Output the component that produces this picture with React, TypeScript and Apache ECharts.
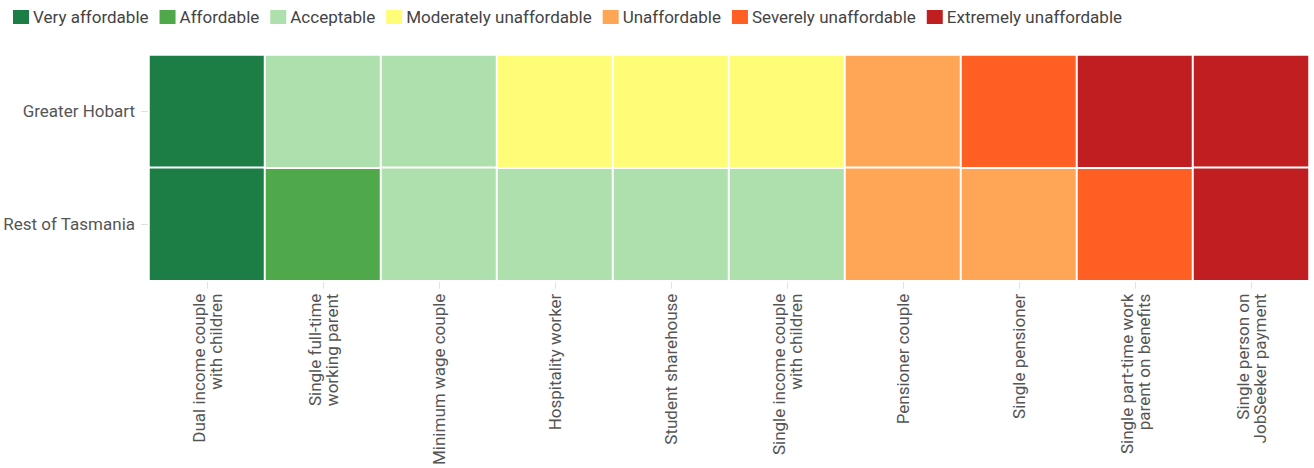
import React, { useEffect, useRef } from "react";
import * as echarts from "echarts";

const regions = ["Greater Hobart", "Rest of Tasmania"];
const households = [
  "Dual income couple\nwith children",
  "Single full-time\nworking parent",
  "Minimum wage couple",
  "Hospitality worker",
  "Student sharehouse",
  "Single income couple\nwith children",
  "Pensioner couple",
  "Single pensioner",
  "Single part-time work\nparent on benefits",
  "Single person on\nJobSeeker payment",
];
const levels = [
  "Very affordable",
  "Affordable",
  "Acceptable",
  "Moderately unaffordable",
  "Unaffordable",
  "Severely unaffordable",
  "Extremely unaffordable",
];
const levelColors = ["#1c7e44", "#4fa84a", "#aee0ae", "#fffc78", "#ffa556", "#ff5f22", "#c11e21"];
// level index per household, per region
const hobartLevels = [0, 2, 2, 3, 3, 3, 4, 5, 6, 6];
const restLevels = [0, 1, 2, 2, 2, 2, 4, 4, 5, 6];

const FONT = "Roboto, 'Noto Sans', sans-serif";

export default function App() {
  const ref = useRef<HTMLDivElement>(null);
  useEffect(() => {
    if (!ref.current) return;
    const chart = echarts.init(ref.current, undefined, { renderer: "svg" });
    const rows = [hobartLevels, restLevels];
    const series = levels.map((name, k) => {
      const data: number[][] = [];
      rows.forEach((row, yi) => {
        row.forEach((lv, xi) => {
          if (lv === k) data.push([xi, yi, k]);
        });
      });
      return {
        name,
        type: "heatmap",
        data,
        itemStyle: { color: levelColors[k], borderColor: "#ffffff", borderWidth: 2 },
        emphasis: { disabled: true },
      };
    });
    chart.setOption({
      animation: false,
      textStyle: { fontFamily: FONT },
      visualMap: {
        show: false,
        type: "piecewise",
        dimension: 2,
        pieces: levelColors.map((c, k) => ({ value: k, color: c })),
      },
      legend: {
        left: 6,
        top: 3,
        icon: "rect",
        itemWidth: 18,
        itemHeight: 16,
        itemGap: 9,
        textStyle: { fontSize: 17, color: "#444", fontFamily: FONT, padding: [0, 0, 0, -2] },
        data: levels.map((n, k) => ({ name: n, itemStyle: { color: levelColors[k] } })),
      },
      grid: {
        left: 147,
        right: 5,
        top: 55,
        bottom: 186,
        show: true,
        borderColor: "#e0e0e0",
        borderWidth: 1,
      },
      xAxis: {
        type: "category",
        data: households,
        axisLine: { show: true, lineStyle: { color: "#e0e0e0" } },
        axisTick: { show: true, alignWithLabel: true, length: 8, lineStyle: { color: "#e0e0e0" } },
        axisLabel: {
          rotate: 90,
          interval: 0,
          fontSize: 17,
          color: "#555",
          fontFamily: FONT,
          margin: 13,
          lineHeight: 17,
        },
        splitLine: { show: false },
      },
      yAxis: {
        type: "category",
        data: regions,
        inverse: true,
        axisLine: { show: true, lineStyle: { color: "#e0e0e0" } },
        axisTick: { show: true, alignWithLabel: true, length: 8, lineStyle: { color: "#e0e0e0" } },
        axisLabel: { fontSize: 17, color: "#555", fontFamily: FONT, margin: 14 },
        splitLine: { show: false },
      },
      series,
    });
    return () => chart.dispose();
  }, []);
  return (
    <div
      ref={ref}
      style={{ position: "absolute", left: 0, top: 0, width: 1314, height: 468 }}
    />
  );
}
